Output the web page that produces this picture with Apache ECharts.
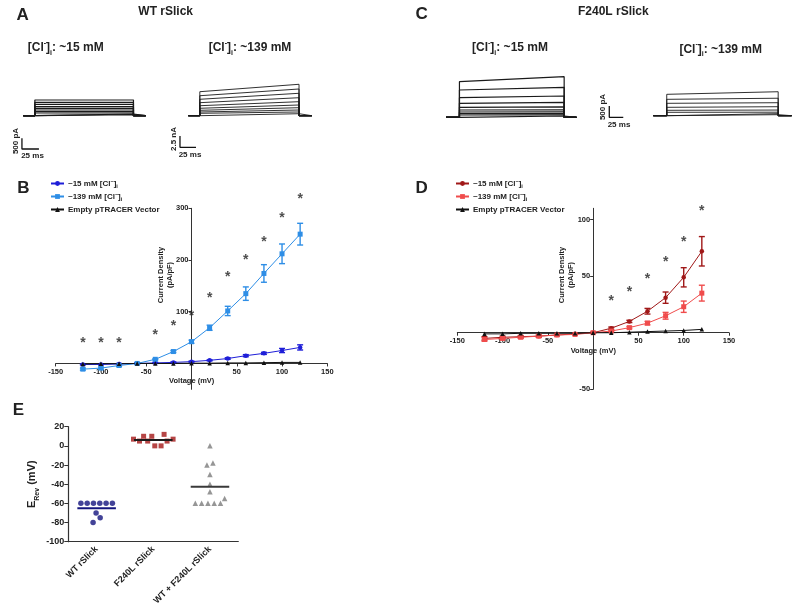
<!DOCTYPE html>
<html><head><meta charset="utf-8">
<script src="https://cdn.jsdelivr.net/npm/echarts@6/dist/echarts.min.js"></script>
<style>html,body{margin:0;padding:0;background:#fff}#c{width:800px;height:613px}</style>
</head><body><div id="c"></div>
<script>
// ================= DATA =================
// Panel B / D: voltage steps (mV)
const voltages = [-120,-100,-80,-60,-40,-20,0,20,40,60,80,100,120];
// Panel B: WT rSlick current density (pA/pF)
const wtLowCl      = [-2,-2,-1,0,1,2,3.5,6,9.5,15,19.5,25,31];
const wtLowClErr   = [1,1,1,1,1,1,1,1,1.5,2,2,4,5];
const wtHighCl     = [-11,-9,-4,0,8,23,42,69,101.5,135,174,212,250];
const wtHighClErr  = [2,2,2,1,1,2,3,5,9,13,17,19,21];
const wtEmpty      = [-1,-0.5,-0.5,0,0,0,0.5,0.5,1,1,1.5,2,2];
const wtSigV       = [-120,-100,-80,-40,-20,0,20,40,60,80,100,120];
const wtSigY       = [45,45,46,61,78,98,132,172,206,241,286,324];
// Panel D: F240L rSlick current density (pA/pF)
const fLowCl       = [-5,-4,-3.5,-3,-2,-1,0,4,10,19,31,49,72];
const fLowClErr    = [1.5,1,1,1,0.5,0.5,0.5,1,1,2.5,5,8.5,13];
const fHighCl      = [-6,-5,-4,-3,-2,-1.5,0,1.5,4.5,8.5,15,23,35];
const fHighClErr   = [1.5,1,1,1,1,0.5,0.5,0.5,1,1.5,3,5,7];
const fEmpty       = [-1,-1,-0.5,-0.5,-0.5,-0.5,0,0,0.5,1,1.5,2,3];
const fSigV        = [20,40,60,80,100,120];
const fSigY        = [31,38.5,50,65,83,110];
// Panel E: reversal potentials (mV)
const eCategories  = ['WT rSlick','F240L rSlick','WT + F240L rSlick'];
const eWT          = [-60,-60,-60,-60,-60,-60,-80,-70,-75];
const eF240L       = [7,5,10,5,10,0,0,12,5,7];
const eMix         = [0,-20,-18,-30,-40,-48,-60,-60,-60,-60,-60,-55];
// Panel A / C: current traces; times (ms): trace start, step on, step off, trace end
const traceA1Times = [0,17,162,180];
const traceA1Start = [733,626,532,420,346,266,187,126,79,47];      // pA
const traceA1End   = [733,626,532,420,346,266,187,126,79,47];
const traceA2Times = [0,18,173,193];
const traceA2Start = [5.31,4.42,3.63,2.88,2.21,1.64,1.19,0.82,0.53,0.31]; // nA
const traceA2End   = [6.95,5.91,4.96,3.98,3.10,2.37,1.77,1.26,0.82,0.44];
const traceC1Times = [0,24,211,233];
const traceC1Start = [1575,1207,867,619,442,323,234,159,102,57];  // pA
const traceC1End   = [1796,1327,942,663,465,335,240,162,104,58];
const traceC2Times = [0,24,223,247];
const traceC2Start = [946,725,548,371,239,150,88,44];            // pA
const traceC2End   = [1061,773,575,398,250,155,90,45];

// ================= CHART =================
const FONT = '"Liberation Sans", Arial, sans-serif';
const TXT = '#222';
const chart = echarts.init(document.getElementById('c'), null, {renderer:'canvas'});

const richSS = (base) => ({
  sup:{fontSize:Math.round(base*0.6), fontWeight:'bold', fontFamily:FONT, verticalAlign:'top', color:TXT},
  sub:{fontSize:Math.round(base*0.6), fontWeight:'bold', fontFamily:FONT, verticalAlign:'bottom', color:TXT}
});

function T(x, y, text, size, extra) {
  extra = extra || {};
  return {
    type:'text', x:x, y:y, rotation: extra.rot || 0, z: 100,
    style:{text:text, fontSize:size, fontWeight:'bold', fontFamily:FONT, fill:TXT,
      align: extra.align || 'center', verticalAlign:'middle',
      lineHeight: extra.lh || undefined, rich: extra.rich || undefined}
  };
}

// trace panels
const tracePanels = [
  {times:traceA1Times, s:traceA1Start, e:traceA1End, grid:{left:10, top:85, width:145, height:67}, x:[-19.56,193.68], y:[-1696.3,1434.6], bar:{t:-2, y0:-1556, y1:-1056, len:25}},
  {times:traceA2Times, s:traceA2Start, e:traceA2End, grid:{left:170, top:78, width:150, height:74}, x:[-28.59,205.78], y:[-8.031,8.341], bar:{t:-13, y0:-6.99, y1:-4.49, len:25}},
  {times:traceC1Times, s:traceC1Start, e:traceC1End, grid:{left:436, top:70, width:164, height:55}, x:[-17.857,275], y:[-340.7,2092.9], bar:null},
  {times:traceC2Times, s:traceC2Start, e:traceC2End, grid:{left:595, top:70, width:203, height:60}, x:[-104.1,258.4], y:[-632.7,2022.1], bar:{t:-78.6, y0:-71, y1:429, len:25}}
];

const grids = [], xAxes = [], yAxes = [], series = [];
tracePanels.forEach((p, gi) => {
  grids.push(Object.assign({containLabel:false}, p.grid));
  xAxes.push({type:'value', gridIndex:gi, min:p.x[0], max:p.x[1], show:false});
  yAxes.push({type:'value', gridIndex:gi, min:p.y[0], max:p.y[1], show:false});
  const t = p.times;
  p.s.forEach((lv, i) => {
    series.push({type:'line', xAxisIndex:gi, yAxisIndex:gi, symbol:'none', silent:true,
      lineStyle:{color:'#1a1a1a', width:(gi===0||gi===2)?1.2:0.9},
      data:[[t[0],0],[t[1],0],[t[1],lv],[t[2],p.e[i]],[t[2],0],[t[3],0]]});
  });
  if (p.bar) {
    const b = p.bar;
    series.push({type:'line', xAxisIndex:gi, yAxisIndex:gi, symbol:'none', silent:true, clip:false,
      lineStyle:{color:'#111', width:1.3},
      data:[[b.t,b.y1],[b.t,b.y0],[b.t+b.len,b.y0]]});
  }
});

// I-V panels: axes cross at the origin (placed with offsets from the grid edges)
function axisBase() {
  return {
    axisLine:{show:true, onZero:false, lineStyle:{color:'#333', width:1}},
    axisTick:{show:true, length:3, lineStyle:{color:'#333'}},
    splitLine:{show:false}
  };
}
function ivPanel(gi, grid, yMin, yMax, yLabels, yTicks) {
  grids.push(Object.assign({containLabel:false}, grid));
  const xZeroOffset = -grid.height * (0 - yMin) / (yMax - yMin);
  const yZeroOffset = -grid.width * 0.5;
  xAxes.push(Object.assign(axisBase(), {type:'value', gridIndex:gi, min:-150, max:150, interval:50,
    position:'bottom', offset:xZeroOffset,
    axisLabel:{fontSize:7.5, fontWeight:'bold', fontFamily:FONT, color:TXT, margin:4,
      customValues:[-150,-100,-50,50,100,150], formatter:v => (v===0?'':String(v))}}));
  const ya = Object.assign(axisBase(), {type:'value', gridIndex:gi, min:yMin, max:yMax, interval:50,
    position:'left', offset:yZeroOffset,
    axisLabel:{fontSize:7.5, fontWeight:'bold', fontFamily:FONT, color:TXT, margin:3,
      customValues:yLabels, formatter:v => (yLabels.indexOf(v)>=0?String(v):'')}});
  ya.axisTick.customValues = yTicks;
  yAxes.push(ya);
}
ivPanel(4, {left:55.7, top:208.3, width:271.6, height:181}, -50, 300, [100,200,300], [100,200,300]);
ivPanel(5, {left:457.3, top:208.3, width:271.7, height:181}, -50, 110, [-50,50,100], [-50,0,50,100]);

function lineSeries(name, gi, vals, color, symbol, size) {
  return {type:'line', name:name, xAxisIndex:gi, yAxisIndex:gi, symbol:symbol, symbolSize:size,
    itemStyle:{color:color}, lineStyle:{color:color, width:1}, z:5,
    data:voltages.map((v,i)=>[v, vals[i]])};
}
function errSeries(gi, vals, errs, color) {
  return {type:'custom', xAxisIndex:gi, yAxisIndex:gi, silent:true, z:4,
    encode:{x:0, y:[1,2]},
    data:voltages.map((v,i)=>[v, vals[i]-errs[i], vals[i]+errs[i]]),
    renderItem:(params, api) => {
      const x = api.value(0), lo = api.coord([x, api.value(1)]), hi = api.coord([x, api.value(2)]);
      const w = 3, st = {stroke:color, lineWidth:1.4};
      return {type:'group', children:[
        {type:'line', shape:{x1:lo[0], y1:lo[1], x2:hi[0], y2:hi[1]}, style:st},
        {type:'line', shape:{x1:lo[0]-w, y1:lo[1], x2:lo[0]+w, y2:lo[1]}, style:st},
        {type:'line', shape:{x1:hi[0]-w, y1:hi[1], x2:hi[0]+w, y2:hi[1]}, style:st}
      ]};
    }};
}
function sigSeries(gi, xs, ys) {
  return {type:'scatter', xAxisIndex:gi, yAxisIndex:gi, clip:false, silent:true, symbolSize:1, z:6,
    itemStyle:{color:'transparent'},
    label:{show:true, position:'inside', formatter:'*', fontSize:14, fontWeight:'bold', fontFamily:FONT, color:TXT, offset:[0,3]},
    data:xs.map((v,i)=>[v, ys[i]])};
}
const C_WT15 = '#1e1ed8', C_WT139 = '#2e8ee6', C_F15 = '#a01818', C_F139 = '#f04c4c', C_EMPTY = '#111';
series.push(
  errSeries(4, wtHighCl, wtHighClErr, C_WT139),
  errSeries(4, wtLowCl, wtLowClErr, C_WT15),
  lineSeries('WT15', 4, wtLowCl, C_WT15, 'circle', 4.5),
  lineSeries('WT139', 4, wtHighCl, C_WT139, 'rect', 5),
  lineSeries('WTE', 4, wtEmpty, C_EMPTY, 'triangle', 4.5),
  sigSeries(4, wtSigV, wtSigY),
  errSeries(5, fLowCl, fLowClErr, C_F15),
  errSeries(5, fHighCl, fHighClErr, C_F139),
  lineSeries('F15', 5, fLowCl, C_F15, 'circle', 4.5),
  lineSeries('F139', 5, fHighCl, C_F139, 'rect', 5),
  lineSeries('FE', 5, fEmpty, C_EMPTY, 'triangle', 4.5),
  sigSeries(5, fSigV, fSigY)
);

// Panel E
grids.push({left:68.3, top:426.7, width:170, height:115, containLabel:false});
xAxes.push({type:'category', gridIndex:6, data:eCategories, boundaryGap:true,
  axisLine:{onZero:false, lineStyle:{color:'#333', width:1.2}},
  axisTick:{alignWithLabel:true, length:4, lineStyle:{color:'#333'}},
  axisLabel:{rotate:45, interval:0, fontSize:9, fontWeight:'bold', fontFamily:FONT, color:TXT, margin:6},
  splitLine:{show:false}});
xAxes.push({type:'value', gridIndex:6, min:0.5, max:3.5, show:false});
yAxes.push({type:'value', gridIndex:6, min:-100, max:20, interval:20,
  axisLine:{show:true, onZero:false, lineStyle:{color:'#333', width:1.2}},
  axisTick:{show:true, length:4, lineStyle:{color:'#333'}},
  axisLabel:{fontSize:9, fontWeight:'bold', fontFamily:FONT, color:TXT, margin:4},
  splitLine:{show:false},
  name:'E{sub|Rev} (mV)', nameLocation:'middle', nameGap:28, nameRotate:90,
  nameTextStyle:{fontSize:11, fontWeight:'bold', fontFamily:FONT, color:TXT, lineHeight:16,
    rich:{sub:{fontSize:7, fontWeight:'bold', fontFamily:FONT, verticalAlign:'bottom', color:TXT}}}});

// column-scatter layout: points that overlap vertically are spread sideways, centred on the column
const E_PX_PER_MV = 115/120, E_UNIT_PER_PX = 3/170, DOT = 6.3, MINGAP = 3;
function columnLayout(vals, center) {
  const idx = vals.map((v,i)=>i);
  const sorted = idx.slice().sort((a,b)=>vals[a]-vals[b]);
  const clusters = []; let cur = [sorted[0]];
  for (let k=1;k<sorted.length;k++) {
    const dy = Math.abs(vals[sorted[k]]-vals[sorted[k-1]])*E_PX_PER_MV;
    if (dy < DOT) cur.push(sorted[k]); else { clusters.push(cur); cur=[sorted[k]]; }
  }
  clusters.push(cur);
  const xs = new Array(vals.length);
  clusters.forEach(cl => {
    cl.sort((a,b)=>a-b); // keep data order left to right
    const pos = [0];
    for (let k=1;k<cl.length;k++) {
      const dy = Math.abs(vals[cl[k]]-vals[cl[k-1]])*E_PX_PER_MV;
      pos.push(pos[k-1] + Math.max(MINGAP, Math.sqrt(Math.max(0, DOT*DOT-dy*dy))));
    }
    const mid = (pos[0]+pos[pos.length-1])/2;
    cl.forEach((p,k)=>{ xs[p] = center + (pos[k]-mid)*E_UNIT_PER_PX; });
  });
  return vals.map((v,i)=>[xs[i], v]);
}
const eGroups = [
  {vals:eWT, color:'#14147e', symbol:'circle', size:5.5, mean:'#14147e'},
  {vals:eF240L, color:'#a41616', symbol:'rect', size:5, mean:'#1a1a1a'},
  {vals:eMix, color:'#7c7c7c', symbol:'triangle', size:5.5, mean:'#3a3a3a'}
];
eGroups.forEach((g, i) => {
  const c = i+1;
  series.push({type:'scatter', xAxisIndex:7, yAxisIndex:6, symbol:g.symbol, symbolSize:g.size,
    itemStyle:{color:g.color}, z:5, data:columnLayout(g.vals, c)});
  const m = g.vals.reduce((a,b)=>a+b,0)/g.vals.length;
  series.push({type:'line', xAxisIndex:7, yAxisIndex:6, symbol:'none', silent:true, z:6,
    lineStyle:{color:g.mean, width:2}, data:[[c-0.34, m],[c+0.34, m]]});
});

// legends
const legendNames = {
  WT15:'~15 mM [Cl{sup|−}]{sub|i}', WT139:'~139 mM [Cl{sup|−}]{sub|i}', WTE:'Empty pTRACER Vector',
  F15:'~15 mM [Cl{sup|−}]{sub|i}', F139:'~139 mM [Cl{sup|−}]{sub|i}', FE:'Empty pTRACER Vector'
};
function legend(left, names) {
  return {left:left, top:178, orient:'vertical', padding:0, itemGap:2, itemWidth:13, itemHeight:6,
    data:names, selectedMode:false, formatter:n=>legendNames[n],
    textStyle:{fontSize:8, fontWeight:'bold', fontFamily:FONT, color:TXT, lineHeight:11, padding:[0,0,0,-1],
      rich:{sup:{fontSize:5.5, fontWeight:'bold', verticalAlign:'top', color:TXT},
            sub:{fontSize:5.5, fontWeight:'bold', verticalAlign:'bottom', color:TXT}}}};
}

// text
const clRich = richSS(12);
const graphics = [
  T(22.6, 15, 'A', 17), T(165.7, 12, 'WT rSlick', 12),
  T(65.7, 47.7, '[Cl{sup|-}]{sub|i}: ~15 mM', 12, {rich:clRich, lh:17}),
  T(250, 47.7, '[Cl{sup|-}]{sub|i}: ~139 mM', 12, {rich:clRich, lh:17}),
  T(16, 141, '500 pA', 8, {rot:Math.PI/2}), T(32.5, 156, '25 ms', 8),
  T(174, 139, '2.5 nA', 8, {rot:Math.PI/2}), T(190, 154.5, '25 ms', 8),
  T(421.7, 14, 'C', 17), T(613.3, 12, 'F240L rSlick', 12),
  T(510, 47.7, '[Cl{sup|-}]{sub|i}: ~15 mM', 12, {rich:clRich, lh:17}),
  T(720.7, 49.3, '[Cl{sup|-}]{sub|i}: ~139 mM', 12, {rich:clRich, lh:17}),
  T(602.7, 107, '500 pA', 8, {rot:Math.PI/2}), T(619, 125, '25 ms', 8),
  T(23.5, 188, 'B', 17), T(421.7, 188.3, 'D', 17), T(18.3, 410.7, 'E', 17),
  T(165.5, 275, 'Current Density\n(pA/pF)', 7.5, {rot:Math.PI/2, lh:9}),
  T(191.7, 380.7, 'Voltage (mV)', 7.5),
  T(566.5, 275, 'Current Density\n(pA/pF)', 7.5, {rot:Math.PI/2, lh:9}),
  T(593.3, 351.3, 'Voltage (mV)', 7.5)
];

chart.setOption({
  animation:false, backgroundColor:'#fff',
  textStyle:{fontFamily:FONT},
  grid:grids, xAxis:xAxes, yAxis:yAxes,
  legend:[legend(50, ['WT15','WT139','WTE']), legend(455, ['F15','F139','FE'])],
  series:series, graphic:graphics
});
</script></body></html>
